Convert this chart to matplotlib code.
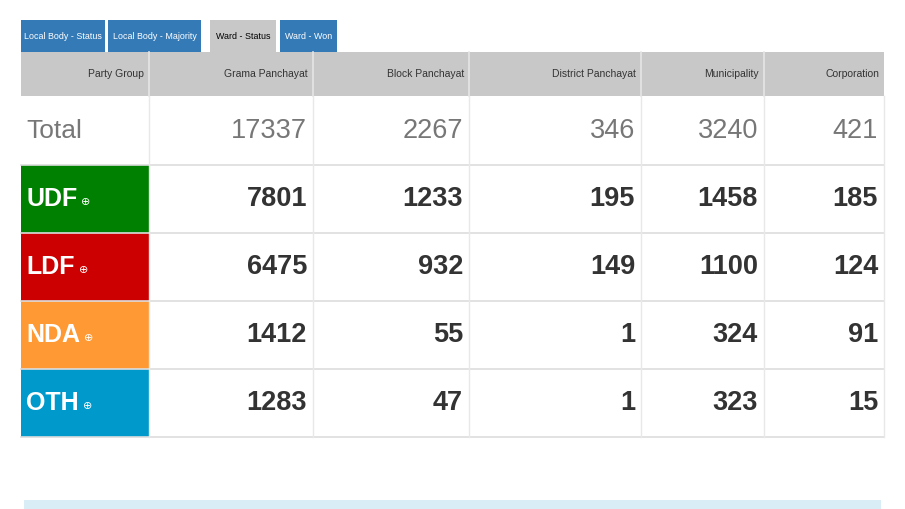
import matplotlib
matplotlib.use("Agg")
import matplotlib.pyplot as plt
from matplotlib.patches import Rectangle

tabs = ["Local Body - Status", "Local Body - Majority", "Ward - Status", "Ward - Won"]
columns = ["Party Group", "Grama Panchayat", "Block Panchayat", "District Panchayat", "Municipality", "Corporation"]
parties = ["Total", "UDF", "LDF", "NDA", "OTH"]
party_colors = ["white", "#008000", "#cc0000", "#ff9933", "#0099cc"]
total = [17337, 2267, 346, 3240, 421]
udf = [7801, 1233, 195, 1458, 185]
ldf = [6475, 932, 149, 1100, 124]
nda = [1412, 55, 1, 324, 91]
oth = [1283, 47, 1, 323, 15]
rows = [total, udf, ldf, nda, oth]

FONT = ["Liberation Sans Narrow", "DejaVu Sans Condensed", "Liberation Sans", "DejaVu Sans"]
fig = plt.figure(figsize=(9.05, 5.09), dpi=100)
ax = fig.add_axes([0, 0, 1, 1])
ax.set_xlim(0, 905); ax.set_ylim(509, 0); ax.axis("off")

tab_x = [(21, 105), (108, 201), (210, 276), (280, 337)]
for (x0, x1), t, i in zip(tab_x, tabs, range(4)):
    active = i == 2
    ax.add_patch(Rectangle((x0, 20), x1 - x0, 32, color="#c8c8c8" if active else "#337ab7", lw=0))
    ax.text((x0 + x1) / 2, 36, t, ha="center", va="center", fontsize=6.4,
            color="black" if active else "white", family=FONT)

xs = [21, 149, 313, 469, 641, 764, 884]
ys = [52, 96, 165, 233, 301, 369, 437]
ax.add_patch(Rectangle((21, 52), 863, 44, color="#c8c8c8", lw=0))
for j, c in enumerate(columns):
    ax.text(xs[j + 1] - 5, 74, c, ha="right", va="center", fontsize=7.5, color="#333333", family=FONT)
for j in range(1, 6):
    ax.plot([xs[j], xs[j]], [52, 96], color="#e6e6e6", lw=1.2)

fig.canvas.draw()
r = fig.canvas.get_renderer()
for i, (p, vals) in enumerate(zip(parties, rows)):
    y0, y1 = ys[i + 1], ys[i + 2]
    yc = (y0 + y1) / 2
    ax.add_patch(Rectangle((21, y0), 128, y1 - y0, color=party_colors[i], lw=0))
    if i == 0:
        ax.text(26, yc, p, ha="left", va="center", fontsize=19, color="#777777", family=FONT)
    else:
        t = ax.text(26, yc, p, ha="left", va="center", fontsize=18, color="white", family=FONT, weight="bold")
        bb = t.get_window_extent(r)
        ax.text(bb.x1 + 4, yc + 3, "⊕", ha="left", va="center", fontsize=8, color="white")
    for j, v in enumerate(vals):
        ax.text(xs[j + 2] - 6, yc, str(v), ha="right", va="center", fontsize=19.5,
                color="#777777" if i == 0 else "#333333", family=FONT,
                weight="normal" if i == 0 else "bold")
    ax.plot([21, 884], [y1, y1], color="#dddddd", lw=1.2)
for j in range(1, 7):
    ax.plot([xs[j], xs[j]], [96, 437], color="#e8e8e8", lw=1)

ax.add_patch(Rectangle((24, 500), 857, 12, color="#d9edf7", lw=0))
fig.savefig("out.png", dpi=100)
